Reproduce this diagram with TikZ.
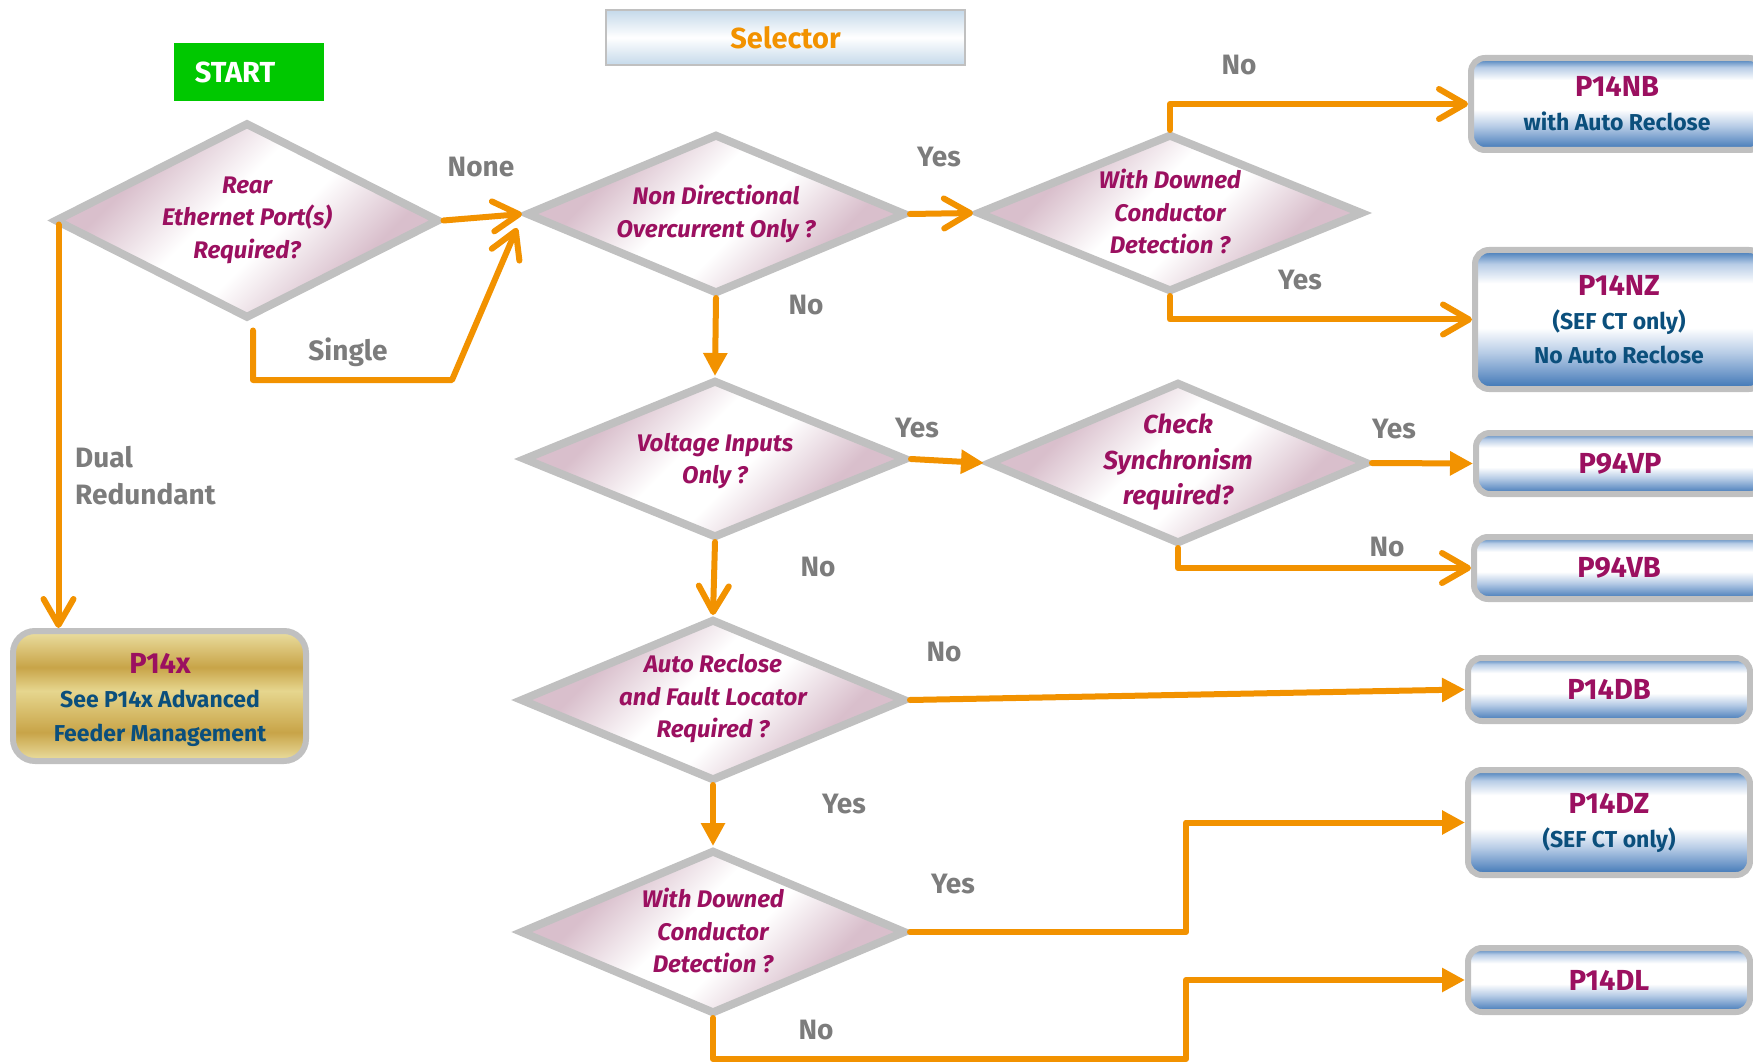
\documentclass[tikz,border=0pt]{standalone}
\usepackage{fontspec}
\setmainfont{Fira Sans}
\usetikzlibrary{arrows.meta,shapes.geometric,calc}
\definecolor{dpink}{HTML}{D9BFCC}
\definecolor{orangec}{HTML}{F29200}
\definecolor{magc}{HTML}{9B1060}
\definecolor{bluetxt}{HTML}{0B4F7C}
\definecolor{graytxt}{HTML}{7C7C7C}
\definecolor{bord}{HTML}{C0C0C0}
\definecolor{boxblue}{HTML}{3A74B4}
\definecolor{boxblueM}{HTML}{6C96C8}
\definecolor{boxblueL}{HTML}{B7CCE6}
\definecolor{selblue}{HTML}{C5D9EA}
\definecolor{goldD}{HTML}{C8A448}
\definecolor{goldL}{HTML}{EBDFA2}
\definecolor{goldM}{HTML}{E6D68E}
\definecolor{startg}{HTML}{00C800}
\pgfdeclarehorizontalshading{dshade}{100bp}{color(0bp)=(dpink); color(31bp)=(dpink); color(45bp)=(white); color(55bp)=(white); color(69bp)=(dpink); color(100bp)=(dpink)}
\pgfdeclareverticalshading{bshade}{100bp}{color(0bp)=(boxblue); color(25bp)=(boxblue); color(30bp)=(boxblueM); color(38bp)=(boxblueL); color(47bp)=(white); color(63bp)=(white); color(70bp)=(boxblueL); color(75bp)=(boxblue); color(100bp)=(boxblue)}
\pgfdeclareverticalshading{gshade}{100bp}{color(0bp)=(goldL); color(25bp)=(goldL); color(36bp)=(goldD); color(52bp)=(goldM); color(61bp)=(goldD); color(75bp)=(goldL); color(100bp)=(goldL)}
\pgfdeclareverticalshading{selshade}{100bp}{color(0bp)=(selblue); color(25bp)=(selblue); color(50bp)=(white); color(75bp)=(selblue); color(100bp)=(selblue)}
\newcommand\mysub[1]{{\color{bluetxt}\fontsize{23pt}{34pt}\selectfont #1}}
\begin{document}
\begin{tikzpicture}[x=1pt,y=-1pt,
 diam/.style={shape=diamond, draw=bord, line width=8pt, shade, shading=dshade, shading angle=-45, inner sep=0pt},
 dtext/.style={text=magc, font=\fontsize{24pt}{32.5pt}\selectfont\bfseries\itshape, align=center, inner sep=0pt},
 obox/.style={rectangle, rounded corners=14pt, draw=bord, line width=6pt, shade, shading=bshade, inner sep=0pt, align=center, text=magc, font=\fontsize{29pt}{34pt}\selectfont\bfseries},
 btext/.style={inner sep=0pt, align=center, text=magc, font=\fontsize{29pt}{34pt}\selectfont\bfseries},
 lbl/.style={text=graytxt, font=\fontsize{28pt}{37pt}\selectfont\bfseries, inner sep=0pt},
 conn/.style={draw=orangec, line width=6pt, line join=round, line cap=round},
 barb/.style={-{Straight Barb[length=26pt,width=30pt,round]}},
 tri/.style={-{Triangle[length=23pt,width=23pt]}}]
\useasboundingbox (0,0) rectangle (1753,1064);
\fill[white] (0,0) rectangle (1753,1064);
\clip (0,0) rectangle (1753,1064);

% start and selector
\node[fill=startg, minimum width=150pt, minimum height=58pt, inner sep=0pt] (start) at (249,72) {};
\node[text=white, font=\fontsize{29pt}{34pt}\selectfont\bfseries, inner sep=0pt] (startt) at (235,72) {START};
\node[draw=bord, line width=2pt, shade, shading=selshade, minimum width=359pt, minimum height=55pt, inner sep=0pt, text=orangec, font=\fontsize{29pt}{34pt}\selectfont\bfseries] (sel) at (785.5,37.5) {Selector};

% decisions
\node[diam, minimum width=385pt, minimum height=196pt] (d1) at (247,220.5) {};
\node[dtext] (t1) at (247,220) {Rear\\Ethernet Port(s)\\Required?};
\node[diam, minimum width=380pt, minimum height=160pt] (d2) at (716,214) {};
\node[dtext] (t2) at (d2) {Non Directional\\Overcurrent Only ?};
\node[diam, minimum width=386pt, minimum height=158pt] (d3) at (1170,213) {};
\node[dtext] (t3) at (1170,211.5) {With Downed\\Conductor\\Detection ?};
\node[diam, minimum width=384pt, minimum height=158pt] (d4) at (715,459) {};
\node[dtext] (t4) at (715,461) {Voltage Inputs\\Only ?};
\node[diam, minimum width=380pt, minimum height=162pt] (d5) at (1178,463) {};
\node[dtext, font=\fontsize{26pt}{35.5pt}\selectfont\bfseries\itshape] (t5) at (1178,462.5) {Check\\Synchronism\\required?};
\node[diam, minimum width=386pt, minimum height=162pt] (d6) at (713,700) {};
\node[dtext] (t6) at (713,699) {Auto Reclose\\and Fault Locator\\Required ?};
\node[diam, minimum width=386pt, minimum height=164pt] (d7) at (713,932) {};
\node[dtext] (t7) at (713,930.5) {With Downed\\Conductor\\Detection ?};

% outcomes
\node[obox, minimum width=292pt, minimum height=92pt] (p14nb) at (1617,104) {P14NB\\\mysub{with Auto Reclose}};
\node[obox, minimum width=288pt, minimum height=139pt] (p14nz) at (1619,319.5) {P14NZ\\\mysub{(SEF CT only)}\\\mysub{No Auto Reclose}};
\node[obox, minimum width=288pt, minimum height=61pt] (p94vp) at (1620,463.5) {P94VP};
\node[obox, minimum width=290pt, minimum height=62pt] (p94vb) at (1619,568) {P94VB};
\node[obox, minimum width=282pt, minimum height=63pt] (p14db) at (1609,689.5) {P14DB};
\node[obox, minimum width=282pt, minimum height=105pt] (p14dz) at (1609,822.5) {P14DZ\\\mysub{(SEF CT only)}};
\node[obox, minimum width=282pt, minimum height=64pt] (p14dl) at (1609,980) {P14DL};
\node[obox, rounded corners=22pt, shading=gshade, minimum width=293pt, minimum height=130pt] (p14x) at (159.5,696) {};
\node[btext] (p14xt) at (160,700) {P14x\\\mysub{See P14x Advanced}\\\mysub{Feeder Management}};

% connectors
\draw[conn,barb] (d1.east) -- (d2.west);
\coordinate (s1) at ($(d1.south)+(6,8)$);
\coordinate (s2) at (253,380);
\coordinate (s3) at (452,380);
\coordinate (s4) at ($(d2.west)+(-5,14)$);
\draw[conn,barb] (s1) -- (s2) -- (s3) -- (s4);
\coordinate (dt) at ($(d1.west)+(8,4)$);
\draw[conn,barb] (dt) -- (dt |- p14x.north);
\draw[conn,barb] (d2.east) -- (d3.west);
\draw[conn,barb] (d3.north) |- (p14nb.west);
\draw[conn,barb] (d3.south) |- (p14nz.west);
\draw[conn,tri] (d2.south) -- (d4.north);
\draw[conn,tri] (d4.east) -- (d5.west);
\draw[conn,tri] (d5.east) -- (p94vp.west);
\draw[conn,barb] (d5.south) |- (p94vb.west);
\draw[conn,barb] (d4.south) -- (d6.north);
\draw[conn,tri] (d6.east) -- (p14db.west);
\draw[conn,tri] (d6.south) -- (d7.north);
\coordinate (jx) at (1186,0);
\draw[conn,tri] (d7.east) -| (jx |- p14dz.west) -- (p14dz.west);
\coordinate (jb) at (1186,1059);
\draw[conn,tri] (d7.south) |- (jb) |- (p14dl.west);

% labels
\node[lbl] (l1) at (481,167) {None};
\node[lbl] (l2) at (348,352) {Single};
\node[lbl, align=left, anchor=west] (l3) at (75,476) {Dual\\Redundant};
\node[lbl] (l4) at (939,157) {Yes};
\node[lbl] (l5) at (1239,65) {No};
\node[lbl] (l6) at (1300,280) {Yes};
\node[lbl] (l7) at (806,305) {No};
\node[lbl] (l8) at (917,428) {Yes};
\node[lbl] (l9) at (1394,429) {Yes};
\node[lbl] (l10) at (1387,547) {No};
\node[lbl] (l11) at (818,567) {No};
\node[lbl] (l12) at (944,652) {No};
\node[lbl] (l13) at (844,804) {Yes};
\node[lbl] (l14) at (953,884) {Yes};
\node[lbl] (l15) at (816,1030) {No};
\end{tikzpicture}
\end{document}
